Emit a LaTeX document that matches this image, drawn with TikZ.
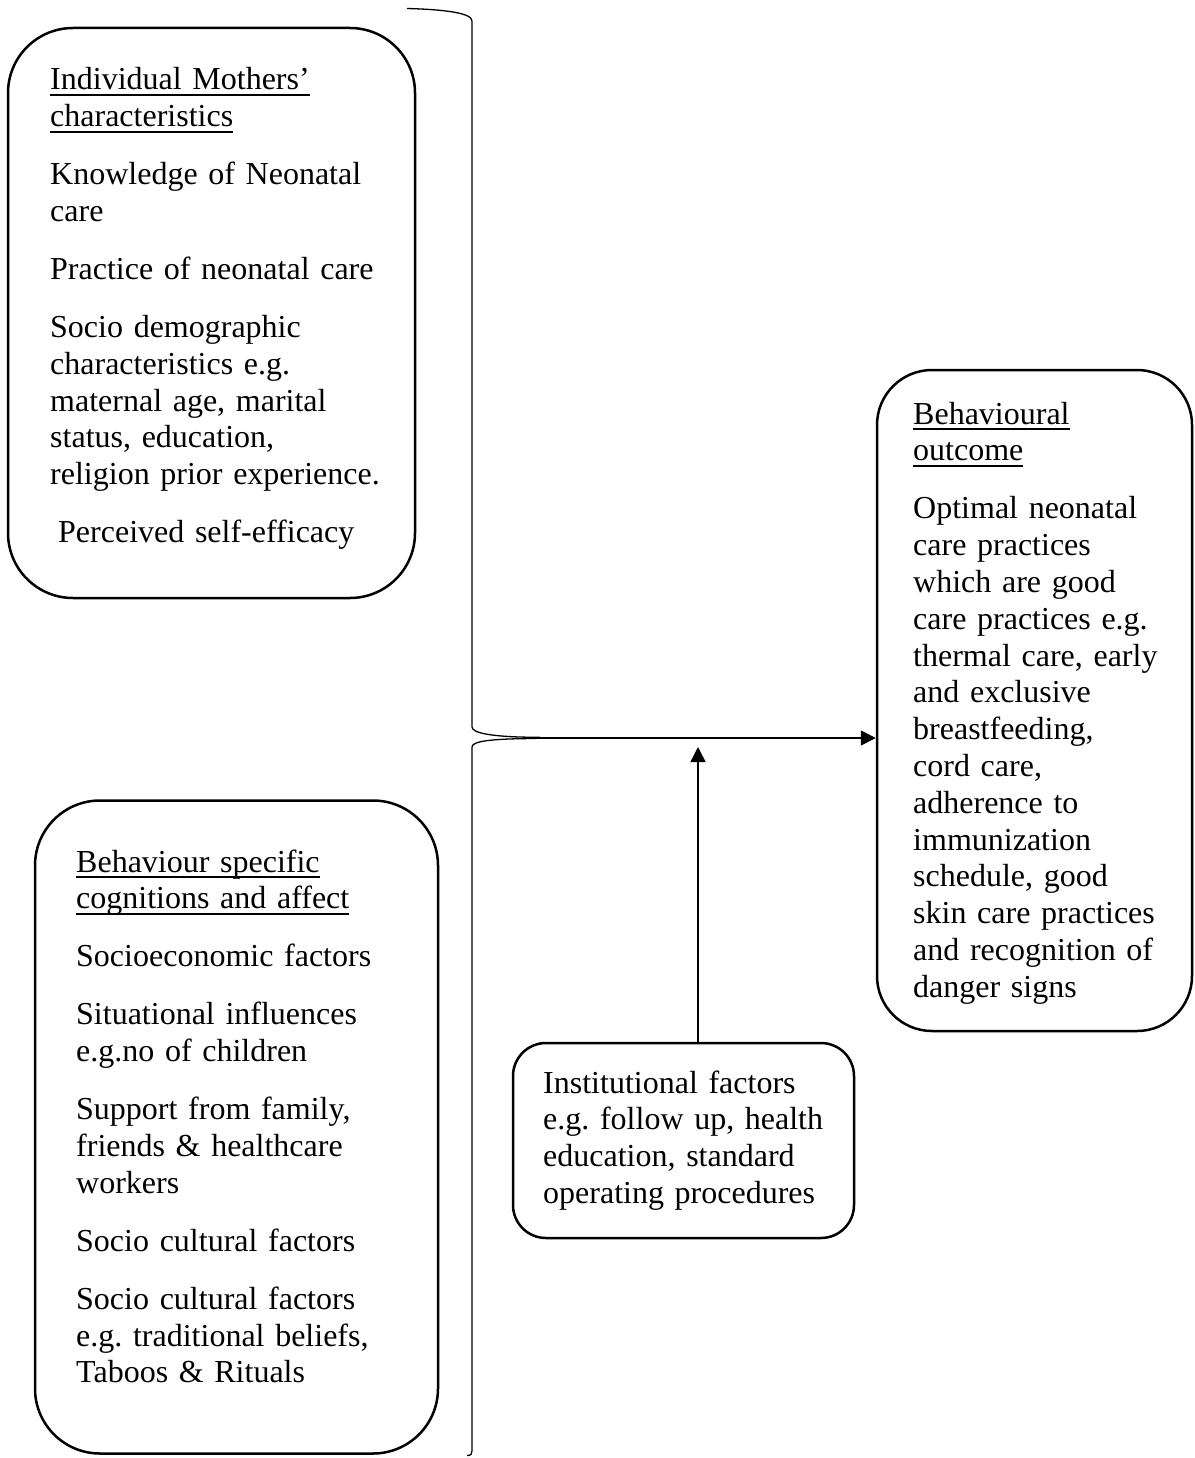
\documentclass[tikz,border=0pt]{standalone}
\usepackage{fontspec}
\setmainfont[WordSpace=0.72]{Liberation Serif}
\usetikzlibrary{arrows.meta}
\newsavebox\myulbox
\newcommand\myul[1]{\leavevmode\sbox\myulbox{#1}\rlap{\rule[-6.2pt]{\wd\myulbox}{2.2pt}}\usebox\myulbox}
\frenchspacing
\begin{document}
\begin{tikzpicture}[x=1pt,y=-1pt,
  box/.style={draw,line width=2.5pt,rounded corners=#1,inner sep=0pt},
  txt/.style={anchor=base west,inner sep=0pt,text width=460pt,align=left,
              font=\fontsize{32}{36.8}\selectfont\frenchspacing},
  conn/.style={line width=1.5pt,-{Triangle[length=15pt,width=15pt]}},
  bracepath/.style={line width=1.3pt}]
\useasboundingbox (0,0) rectangle (1194,1458);

% boxes
\node[box=65pt,minimum width=407pt,minimum height=570pt] (b1) at (211.5,313) {};
\node[box=65pt,minimum width=403pt,minimum height=653pt] (b2) at (236.5,1127) {};
\node[box=55pt,minimum width=315pt,minimum height=661pt] (out) at (1034.5,700.5) {};
\node[box=33pt,minimum width=341pt,minimum height=195pt] (inst) at (683.5,1140.5) {};

% texts
\node[txt] (t1) at (50,90) {\myul{Individual Mothers’}\\
\myul{characteristics}\\[21.2pt]
Knowledge of Neonatal\\ care\\[21.2pt]
Practice of neonatal care\\[21.2pt]
Socio demographic\\ characteristics e.g.\\ maternal age, marital\\ status, education,\\ religion prior experience.\\[21.2pt]
\hspace*{8pt}Perceived self-efficacy};

\node[txt] (t2) at (76,872) {\myul{Behaviour specific}\\
\myul{cognitions and affect}\\[21.2pt]
Socioeconomic factors\\[21.2pt]
Situational influences\\ e.g.no of children\\[21.2pt]
Support from family,\\ friends \& healthcare\\ workers\\[21.2pt]
Socio cultural factors\\[21.2pt]
Socio cultural factors\\ e.g. traditional beliefs,\\ Taboos \& Rituals};

\node[txt] (t3) at (913,424) {\myul{Behavioural}\\
\myul{outcome}\\[21.2pt]
Optimal neonatal\\ care practices\\ which are good\\ care practices e.g.\\ thermal care, early\\ and exclusive\\ breastfeeding,\\ cord care,\\ adherence to\\ immunization\\ schedule, good\\ skin care practices\\ and recognition of\\ danger signs};

\node[txt] (t4) at (543,1093) {Institutional factors\\ e.g. follow up, health\\ education, standard\\ operating procedures};

% brace
\coordinate (tip) at (530,738);
\draw[bracepath] (407,8.5) .. controls (445,9.5) and (472,13) .. (472,21)
  -- (472,727) .. controls (472,733) and (492,737.3) .. (540,737.3);
\draw[bracepath] (536,738.5) .. controls (492,738.7) and (472,741) .. (472,747)
  -- (472,1451) .. controls (472,1454) and (471,1455.5) .. (467,1455.5);

% connectors
\draw[conn] (tip) -- (tip -| out.west);
\coordinate (vt) at (698,747);
\draw[conn] (vt |- inst.north) -- (vt);
\end{tikzpicture}
\end{document}
